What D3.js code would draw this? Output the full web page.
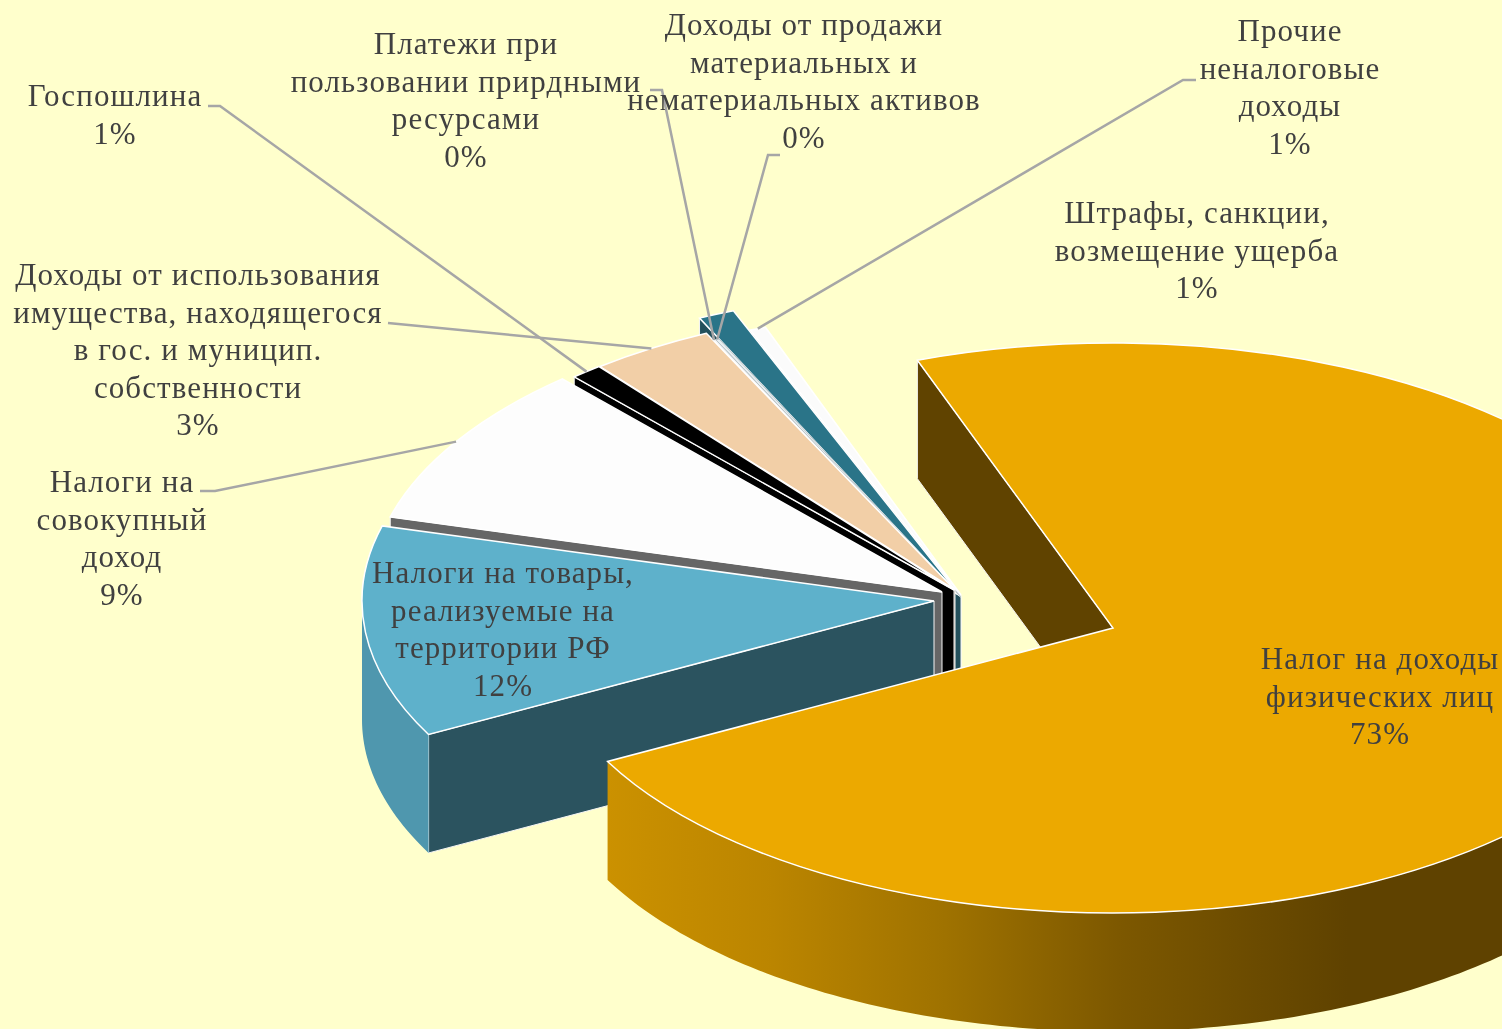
<!DOCTYPE html>
<html>
<head>
<meta charset="utf-8">
<script src="https://cdn.jsdelivr.net/npm/d3@7"></script>
<style>
  html, body { margin: 0; padding: 0; background: #ffffcc; overflow: hidden; }
  svg { filter: blur(0.5px); }
  text { font-family: "Liberation Serif", serif; font-size: 31px; fill: #404040; text-anchor: middle; letter-spacing: 1.1px; }
</style>
</head>
<body>
<div id="chart"></div>
<script>
// Data (percent of revenue)
const categories = [
  "Налог на доходы физических лиц",
  "Налоги на товары, реализуемые на территории РФ",
  "Налоги на совокупный доход",
  "Госпошлина",
  "Доходы от использования имущества",
  "Платежи при пользовании природными ресурсами",
  "Доходы от продажи активов",
  "Штрафы, санкции, возмещение ущерба",
  "Прочие неналоговые доходы"
];
const values = [72.8, 12, 9.2, 0.9, 3.5, 0.1, 0.1, 0.95, 0.45];
const percentLabels = ["73%", "12%", "9%", "1%", "3%", "0%", "0%", "1%", "1%"];

// Label lines, one list per slice
const labelLines = [
  ["Налог на доходы", "физических лиц"],
  ["Налоги на товары,", "реализуемые на", "территории РФ"],
  ["Налоги на", "совокупный", "доход"],
  ["Госпошлина"],
  ["Доходы от использования", "имущества, находящегося", "в гос. и муницип.", "собственности"],
  ["Платежи при", "пользовании прирдными", "ресурсами"],
  ["Доходы от продажи", "материальных и", "нематериальных активов"],
  ["Штрафы, санкции,", "возмещение ущерба"],
  ["Прочие", "неналоговые", "доходы"]
];

// Styles per slice
const topColors  = ["#eca900", "#5eb1cb", "#fdfdfd", "#000000", "#f2cfa7", "#f4f4f4", "#e8eef0", "#2a7488", "#fbfbfb"];
const cutColors  = ["#604300", "#2b535f", "#666666", "#000000", "#94806a", "#f8f8f8", "#f8f8f8", "#23505c", "#b8b8b8"];
const rimColors  = ["url(#orangeWall)", "#4f97ae", "#666666", "#000000", "#94806a", "#cccccc", "#cccccc", "#23505c", "#dddddd"];

// Layout per slice: exploded apex, rim scale, label position
const apexX = [1113, 934, 942, 954, 955, 961, 961, 961, 961];
const apexY = [628, 601, 592, 590, 590, 597, 597, 597, 595];
const rimScale = [1, 1, 1, 1, 1, 1, 1, 1.08, 1];
const labelX = [1380, 503, 122, 115, 198, 466, 804, 1197, 1290];
const labelY = [669, 583, 492, 106, 285, 54, 35, 223, 41];
// elbow of the leader line, null = no leader
const leaderFrom = [null, null, [200, 491, 215, 491], [208, 106, 220, 106], [388, 323, 388, 323], [650, 90, 662, 90], [780, 155, 768, 155], null, [1196, 80, 1183, 80]];

const width = 1502, height = 1029;
const rx = 572, ry = 285, depth = 118.5;
const lineStep = 37.6;
const toRad = Math.PI / 180;

const svg = d3.select("#chart").append("svg")
  .attr("width", width)
  .attr("height", height)
  .style("display", "block");

svg.append("rect").attr("width", width).attr("height", height).attr("fill", "#ffffcc");

// Shaded outer wall of the big slice
const grad = svg.append("defs").append("linearGradient")
  .attr("id", "orangeWall")
  .attr("gradientUnits", "userSpaceOnUse")
  .attr("x1", 607).attr("x2", 1502).attr("y1", 0).attr("y2", 0);
grad.append("stop").attr("offset", "0").attr("stop-color", "#cb9100");
grad.append("stop").attr("offset", "0.185").attr("stop-color", "#bb8500");
grad.append("stop").attr("offset", "0.378").attr("stop-color", "#9f7200");
grad.append("stop").attr("offset", "0.571").attr("stop-color", "#7d5800");
grad.append("stop").attr("offset", "0.828").attr("stop-color", "#5f4200");
grad.append("stop").attr("offset", "1").attr("stop-color", "#5f4200");

// Pie angles start at the -20 degree cut like the original
const pie = d3.pie().sort(null).startAngle(-20 * toRad).endAngle(340 * toRad);
const arcs = pie(values);

const x = d3.scaleLinear().domain([-1, 1]).range([-rx, rx]);
const y = d3.scaleLinear().domain([-1, 1]).range([-ry, ry]);

function rimPoint(i, a, drop) {
  const r = rimScale[i];
  return [apexX[i] + x(Math.sin(a) * r), apexY[i] + y(-Math.cos(a) * r) + (drop || 0)];
}

const line = d3.line();

function rimSamples(i, a0, a1, drop) {
  const n = Math.max(2, Math.ceil((a1 - a0) / toRad));
  return d3.range(n + 1).map(k => rimPoint(i, a0 + (a1 - a0) * k / n, drop));
}

// Back slices first, the big slice goes on top of everything
const order = [8, 7, 6, 5, 4, 3, 2, 1, 0];

order.forEach(i => {
  const d = arcs[i];
  const g = svg.append("g");

  // cut face on the start side; the two 0% slivers taper so the dark strip at the centre stays visible
  const p0 = rimPoint(i, d.startAngle);
  const sliver = i === 5 || i === 6;
  const cutPts = sliver
    ? [[apexX[i], apexY[i]], p0, [p0[0], p0[1] + depth]]
    : [[apexX[i], apexY[i]], p0, [p0[0], p0[1] + depth], [apexX[i], apexY[i] + depth]];
  g.append("path")
    .attr("d", line(cutPts) + "Z")
    .attr("fill", cutColors[i])
    .attr("stroke", sliver ? "none" : "#f5f5f5")
    .attr("stroke-width", 1);

  // outer wall, only the front half of the rim shows
  const a0 = Math.max(d.startAngle, 90 * toRad);
  const a1 = Math.min(d.endAngle, 270 * toRad);
  if (a1 > a0) {
    const pts = rimSamples(i, a0, a1, 0).concat(rimSamples(i, a0, a1, depth).reverse());
    g.append("path")
      .attr("d", line(pts) + "Z")
      .attr("fill", rimColors[i])
      .attr("stroke", "none");
  }

  // top face, d3.arc squeezed into the ellipse
  const arc = d3.arc().innerRadius(0).outerRadius(rx * rimScale[i]);
  g.append("path")
    .attr("d", arc(d))
    .attr("transform", "translate(" + apexX[i] + "," + apexY[i] + ") scale(1," + (ry / rx) + ")")
    .attr("fill", topColors[i])
    .attr("stroke", sliver ? "#b9c4c8" : "#ffffff")
    .attr("stroke-width", sliver ? 1 : 1.5)
    .attr("vector-effect", "non-scaling-stroke");
});

// Leader lines run to the middle of each slice rim
leaderFrom.forEach((f, i) => {
  if (!f) return;
  const mid = (arcs[i].startAngle + arcs[i].endAngle) / 2;
  svg.append("path")
    .attr("d", line([[f[0], f[1]], [f[2], f[3]], rimPoint(i, mid)]))
    .attr("fill", "none")
    .attr("stroke", "#a6a6a6")
    .attr("stroke-width", 2.5);
});

// Labels
labelLines.forEach((lines, i) => {
  const t = svg.append("text").attr("x", labelX[i]);
  lines.concat(percentLabels[i]).forEach((s, k) => {
    t.append("tspan")
      .attr("x", labelX[i])
      .attr("y", labelY[i] + k * lineStep)
      .text(s);
  });
});
</script>
</body>
</html>
